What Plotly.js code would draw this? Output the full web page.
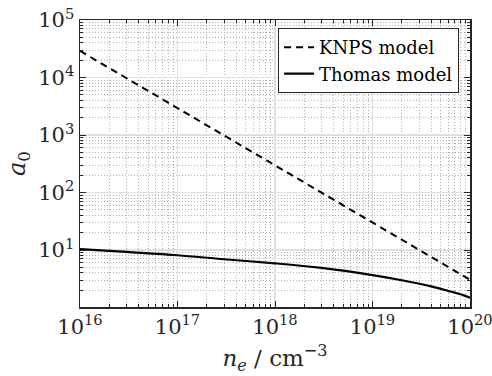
<!DOCTYPE html>
<html>
<head>
<meta charset="utf-8">
<script src="https://cdn.plot.ly/plotly-3.0.1.min.js"></script>
<style>html,body{margin:0;padding:0;background:#fff;}#chart{width:492px;height:376px;}</style>
</head>
<body>
<div id="chart"></div>
<script>
// Data
var knpsDensity = [1e16, 1e17, 1e18, 1e19, 1e20];
var knpsA0 = [2.9e4, 2.95e3, 2.95e2, 30, 3.05];

var thomasDensity = [1e16, 3e16, 1e17, 3e17, 1e18, 3e18, 1e19, 2e19, 4e19, 6e19, 8e19, 1e20];
var thomasA0 = [10.4, 9.27, 8.13, 6.92, 5.89, 4.9, 3.67, 2.99, 2.34, 1.95, 1.7, 1.48];

var seriesNames = ["KNPS model", "Thomas model"];

var xTickVals = [1e16, 1e17, 1e18, 1e19, 1e20];
var xTickText = ["10<sup>16</sup>", "10<sup>17</sup>", "10<sup>18</sup>", "10<sup>19</sup>", "10<sup>20</sup>"];
var yTickVals = [1e1, 1e2, 1e3, 1e4, 1e5];
var yTickText = ["10<sup>1</sup>", "10<sup>2</sup>", "10<sup>3</sup>", "10<sup>4</sup>", "10<sup>5</sup>"];

function minorVals(lo, hi) {
  var out = [];
  for (var p = lo; p < hi; p++) {
    for (var d = 2; d <= 9; d++) out.push(d * Math.pow(10, p));
  }
  return out;
}

var FONT = "DejaVu Serif";

var traces = [
  {x: knpsDensity, y: knpsA0, name: seriesNames[0], mode: "lines",
   line: {color: "#000", width: 2, dash: "7px,5px"}},
  {x: thomasDensity, y: thomasA0, name: seriesNames[1], mode: "lines",
   line: {color: "#000", width: 2.2, shape: "spline", smoothing: 1}}
];

var minorCfg = function (vals) {
  return {tickmode: "array", tickvals: vals, ticks: "inside", ticklen: 3, tickcolor: "#262626",
          showgrid: true, gridcolor: "#b0b0b0", griddash: "1px,2px", gridwidth: 1};
};

var layout = {
  width: 492, height: 376,
  margin: {l: 80, r: 22, t: 20, b: 69},
  paper_bgcolor: "#fff", plot_bgcolor: "#fff",
  font: {family: FONT, color: "#262626", size: 20},
  showlegend: true,
  legend: {x: 0.972, y: 0.972, xanchor: "right", yanchor: "top",
           bgcolor: "#fff", bordercolor: "#262626", borderwidth: 1,
           font: {family: FONT, size: 18, color: "#000"}, tracegroupgap: 0},
  xaxis: {
    type: "log", range: [16, 20],
    tickmode: "array", tickvals: xTickVals, ticktext: xTickText,
    ticks: "inside", ticklen: 6, tickcolor: "#262626", tickwidth: 1,
    showline: true, linecolor: "#262626", linewidth: 1.5, mirror: "ticks",
    showgrid: true, gridcolor: "#e0e0e0", gridwidth: 1.2,
    zeroline: false, ticklabeloverflow: "allow",
    tickfont: {family: FONT, size: 21, color: "#262626"},
    minor: minorCfg(minorVals(16, 20)),
    title: {text: "<i>n</i><sub><i>e</i></sub> / cm<sup>\u22123</sup>", standoff: 12,
            font: {family: FONT, size: 23, color: "#262626"}}
  },
  yaxis: {
    type: "log", range: [0.01, 5],
    tickmode: "array", tickvals: yTickVals, ticktext: yTickText,
    ticks: "inside", ticklen: 6, tickcolor: "#262626", tickwidth: 1,
    showline: true, linecolor: "#262626", linewidth: 1.5, mirror: "ticks",
    showgrid: true, gridcolor: "#e0e0e0", gridwidth: 1.2,
    zeroline: false, ticklabeloverflow: "allow",
    tickfont: {family: FONT, size: 21, color: "#262626"},
    minor: minorCfg(minorVals(0, 5)),
    title: {text: "<i>a</i><sub>0</sub>", standoff: 6,
            font: {family: FONT, size: 24, color: "#262626"}}
  }
};

Plotly.newPlot("chart", traces, layout, {displayModeBar: false, staticPlot: true});
</script>
</body>
</html>
